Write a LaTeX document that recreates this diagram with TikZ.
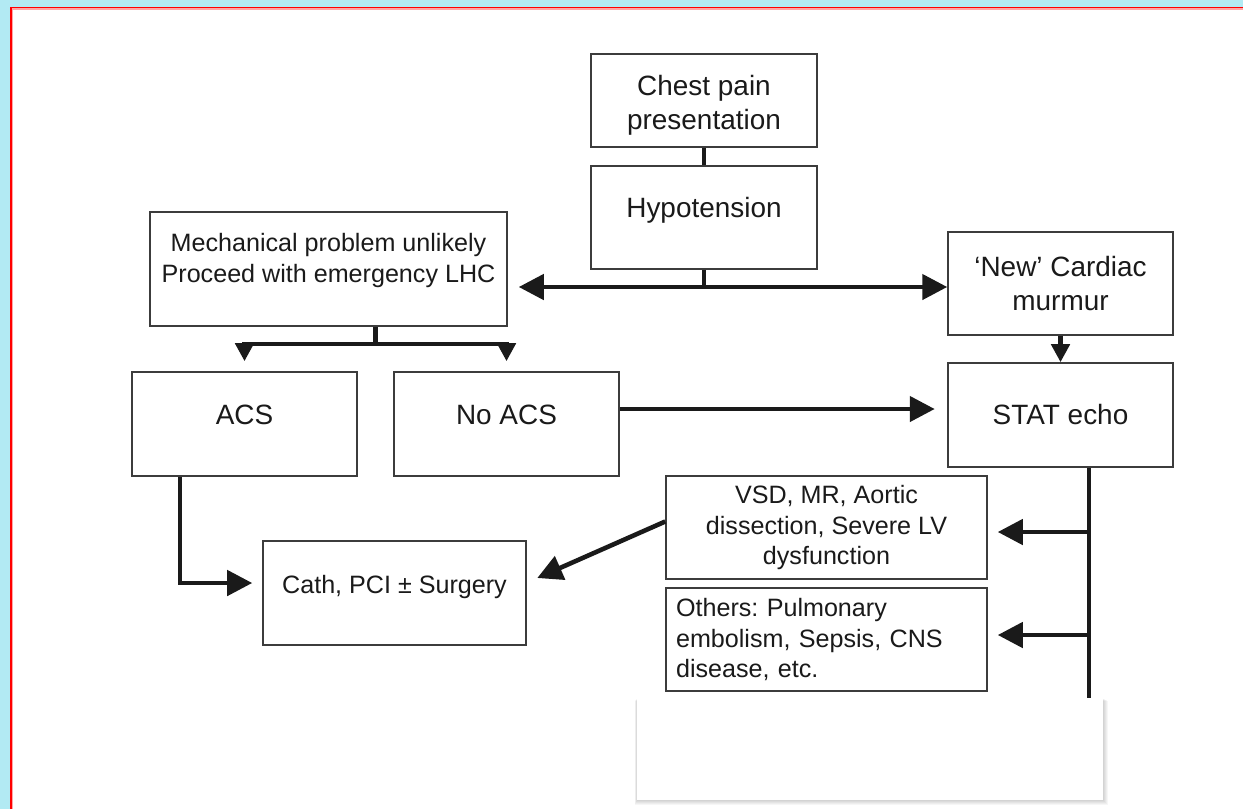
\documentclass[tikz,border=0pt]{standalone}
\usepackage{fontspec}
\setmainfont{Liberation Sans}
\usetikzlibrary{arrows.meta}
\definecolor{framebg}{RGB}{178,234,243}
\definecolor{boxline}{RGB}{60,60,60}
\definecolor{ink}{RGB}{26,26,26}
\frenchspacing

\begin{document}
\begin{tikzpicture}[x=0.02cm, y=-0.02cm,
  box/.style={draw=boxline, line width=0.9pt, text=ink, align=center, inner sep=0pt},
  bigtext/.style={font=\fontsize{15.9}{18.8}\selectfont},
  smalltext/.style={font=\fontsize{14.3}{17.2}\selectfont},
  conn/.style={draw=ink, line width=2.6pt},
  bigtip/.style={-{Triangle[length=0.5cm, width=0.5cm]}},
  smalltip/.style={-{Triangle[length=0.36cm, width=0.36cm]}}]

  % --- page frame ---
  \useasboundingbox (0,0) rectangle (1243,809);
  \fill[framebg] (0,0) rectangle (1243,809);
  \fill[white] (11,8) rectangle (1243,809);
  \draw[red, line width=1pt] (11,809) -- (11,7.5) -- (1243,7.5);
  \draw[red!35, line width=0.6pt] (12.4,809) -- (12.4,9) -- (1243,9);

  % --- boxes ---
  \node[box, bigtext, minimum width=4.52cm, minimum height=1.86cm, text height=1.5cm, text depth=0.36cm] (chest) at (704,100.5) {Chest pain\\presentation};
  \node[box, bigtext, minimum width=4.52cm, minimum height=2.06cm, text height=0.4cm, text depth=0.4cm] (hypo) at (704,217.5) {Hypotension};
  \node[box, smalltext, minimum width=7.14cm, minimum height=2.28cm, text height=0.92cm, text depth=0.4cm] (mech) at (328.5,269) {Mechanical problem unlikely\\Proceed with emergency LHC};
  \node[box, bigtext, minimum width=4.5cm, minimum height=2.06cm] (murmur) at (1060.5,283.5) {‘New’ Cardiac\\murmur};
  \node[box, bigtext, minimum width=4.5cm, minimum height=2.08cm] (echo) at (1060.5,415) {STAT echo};
  \node[box, bigtext, minimum width=4.5cm, minimum height=2.08cm, text height=0.4cm, text depth=0.4cm] (acs) at (244.5,424) {ACS};
  \node[box, bigtext, minimum width=4.5cm, minimum height=2.08cm, text height=0.4cm, text depth=0.4cm] (noacs) at (506.5,424) {No ACS};
  \node[box, smalltext, minimum width=6.42cm, minimum height=2.06cm] (vsd) at (826.5,527.5) {VSD, MR, Aortic\\dissection, Severe LV\\dysfunction};
  \node[box, smalltext, align=left, text width=6.02cm, inner xsep=0.2cm, minimum height=2.06cm] (others) at (826.5,639.5) {Others: Pulmonary\\embolism, Sepsis, CNS\\disease, etc.};
  \node[box, smalltext, minimum width=5.26cm, minimum height=2.08cm, text height=0.35cm, text depth=0.35cm] (cath) at (394.5,593) {Cath, PCI ± Surgery};

  % --- junctions ---
  \coordinate (j1) at (704,287);
  \coordinate (j2) at (375.7,344);
  \coordinate (j3) at (1089,760);

  % --- connectors ---
  \draw[conn] (chest.south) -- (hypo.north);
  \draw[conn] (hypo.south) -- (j1);
  \draw[conn, bigtip, shorten >=0.22cm] (j1) -- (j1 -| mech.east);
  \draw[conn, bigtip] (j1) -- (j1 -| murmur.west);
  \draw[conn] (j2 |- mech.south) -- (j2);
  \draw[conn, smalltip, shorten >=0.2cm] (j2) -| (acs.north);
  \draw[conn, smalltip, shorten >=0.2cm] (j2) -| (noacs.north);
  \draw[conn, smalltip] (murmur.south) -- (echo.north);
  \draw[conn, bigtip, shorten >=0.25cm] ([yshift=0.3cm]noacs.east) -- ([yshift=0.3cm]noacs.east -| echo.west);
  \draw[conn] (j3 |- echo.south) -- (j3);
  \draw[conn, bigtip, shorten >=0.2cm] ([yshift=-0.09cm]vsd.east -| j3) -- ([yshift=-0.09cm]vsd.east);
  \draw[conn, bigtip, shorten >=0.2cm] ([yshift=0.09cm]others.east -| j3) -- ([yshift=0.09cm]others.east);
  \draw[conn, bigtip, shorten >=0.2cm] ([xshift=-1.29cm]acs.south) |- ([yshift=0.2cm]cath.west);
  \draw[conn, bigtip] ([yshift=0.12cm]vsd.west) -- ([xshift=0.21cm, yshift=0.3cm]cath.east);

  % --- white panel over the foot of the line ---
  \foreach \s in {1,...,5}
    \fill[black, opacity=0.035] (637-\s/2,698+\s/2) rectangle (1103+\s,800+\s);
  \fill[white] (637,698) rectangle (1103,800);

\end{tikzpicture}
\end{document}
